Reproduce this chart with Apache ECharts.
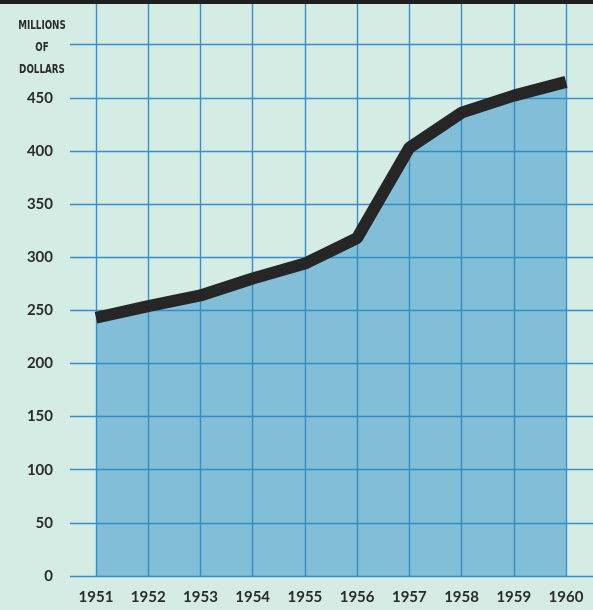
<!DOCTYPE html>
<html>
<head>
<meta charset="utf-8">
<script src="https://cdn.jsdelivr.net/npm/echarts@6/dist/echarts.min.js"></script>
<style>
  html, body { margin: 0; padding: 0; background: #d3ebe3; }
  #chart { width: 593px; height: 610px; }
</style>
</head>
<body>
<div id="chart"></div>
<script>
const years = [1951, 1952, 1953, 1954, 1955, 1956, 1957, 1958, 1959, 1960]
const values = [243, 254, 264, 280, 294, 318, 403, 436, 452, 465]
const unitLabel = 'MILLIONS\nOF\nDOLLARS'

const gridColor = '#3590cb'
const textColor = '#2b2b2b'

const chart = echarts.init(document.getElementById('chart'))
chart.setOption({
  backgroundColor: '#d4ece4',
  animation: false,
  graphic: [
    {
      type: 'rect', left: 0, top: 0, z: 100,
      shape: { width: 593, height: 4 },
      style: { fill: '#1f1f1f' }
    },
    {
      // condensed unit label, squeezed horizontally like the original lettering
      type: 'text', x: 42, y: 15, z: 100, scaleX: 0.75,
      style: {
        text: unitLabel, textAlign: 'center', lineHeight: 22,
        font: 'bold 13px "DejaVu Sans Condensed", "DejaVu Sans", sans-serif',
        fill: textColor
      }
    }
  ],
  grid: [
    // background grid: horizontal lines + y labels
    { left: 70, right: 0, top: 0, bottom: 34 },
    // data grid: years
    { left: 96, right: 27, top: 0, bottom: 34 }
  ],
  xAxis: [
    { gridIndex: 0, type: 'value', min: 0, max: 1, show: false },
    {
      gridIndex: 1, type: 'value', min: 1951, max: 1960, interval: 1,
      axisLine: { show: false },
      axisTick: { show: false },
      splitLine: { lineStyle: { color: gridColor, width: 1.4 } },
      axisLabel: {
        margin: 14, color: textColor, fontSize: 15, fontWeight: 'bold',
        fontFamily: 'Lato', formatter: v => String(v)
      }
    }
  ],
  yAxis: [
    {
      gridIndex: 0, type: 'value', min: 0, max: 542, interval: 50,
      axisLine: { show: false },
      axisTick: { show: false },
      splitLine: { lineStyle: { color: gridColor, width: 1.4 } },
      axisLabel: {
        margin: 17, color: textColor, fontSize: 15, fontWeight: 'bold',
        fontFamily: 'Lato',
        formatter: v => (v >= 500 ? '' : String(v))
      }
    },
    { gridIndex: 1, type: 'value', min: 0, max: 542, interval: 50, show: false }
  ],
  series: [{
    type: 'line',
    xAxisIndex: 1,
    yAxisIndex: 1,
    data: years.map((y, i) => [y, values[i]]),
    symbol: 'none',
    lineStyle: { color: '#262626', width: 12 },
    areaStyle: { color: '#2a8cc8', opacity: 0.48 }
  }]
})
window.onresize = function () {
  chart.resize()
}
</script>
</body>
</html>
